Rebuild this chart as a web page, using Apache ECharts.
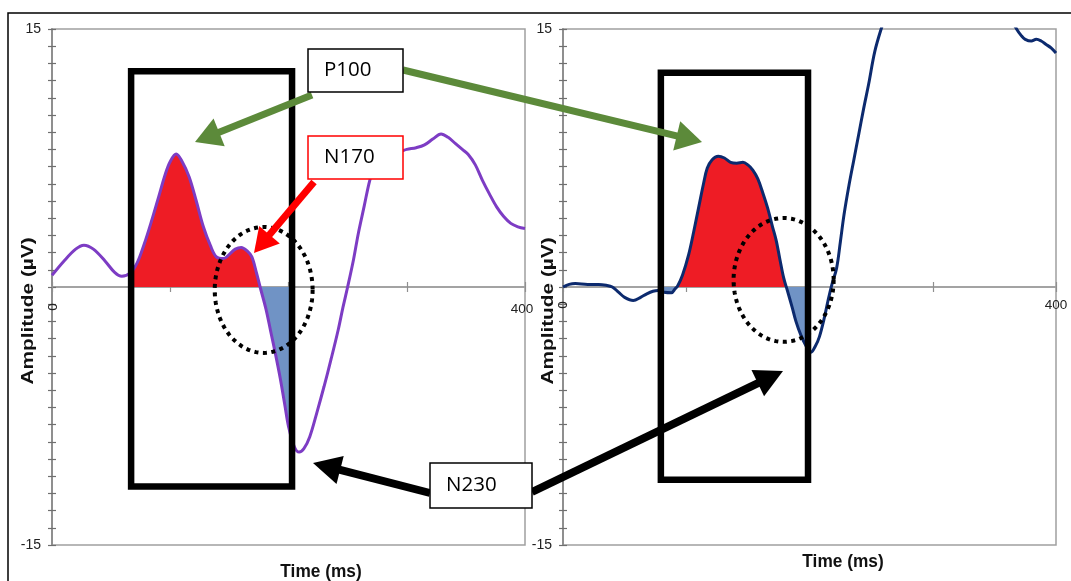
<!DOCTYPE html>
<html>
<head>
<meta charset="utf-8">
<script src="https://cdn.jsdelivr.net/npm/echarts@6/dist/echarts.min.js"></script>
<style>html,body{margin:0;padding:0;background:#fff;}#c{width:1071px;height:581px;}</style>
</head>
<body>
<div id="c"></div>
<script>
// ---- data ----
const timeL = [0,10,20,27,35,45,53,59,66,72,78,84,90,96,100,105,110,116,122,128,134,139,145,150,155,160,165,169,173,176,181,185,189,193,197,200,205,209,213,218,224,230,236,242,246,250,255,259,264,268,272,275,280,287,294,300,308,315,322,329,335,341,347,352,358,364,370,376,382,388,394,400];
const ampL  = [0.68,1.5,2.2,2.43,2.2,1.5,0.85,0.62,0.8,1.4,2.5,3.8,5.2,6.6,7.3,7.73,7.3,6.4,5.0,3.5,2.4,1.75,1.65,1.9,2.2,2.3,2.1,1.75,0.8,0,-1.3,-2.6,-3.9,-5.3,-6.9,-8.1,-9.3,-9.6,-9.4,-8.7,-7.3,-5.8,-4.2,-2.5,-1.2,0,1.6,3.1,4.7,6.0,7.0,7.55,7.8,7.85,7.87,8.0,8.1,8.26,8.6,8.9,8.7,8.35,8.0,7.7,7.1,6.2,5.4,4.66,4.1,3.7,3.5,3.4];
const timeR = [0,5,10,20,29,35,40,45,50,57,63,68,73,77,82,88,91,93,97,102,106,110,114,117,121,126,131,136,141,146,150,154,158,162,166,170,173,176,179,182,186,189,193,197,201,205,208,212,215,218,222,225,228,232,236,240,244,248,253,259,265,280,300,320,340,355,362,368,372,375,380,384,388,392,396,400];
const ampR  = [0,0.15,0.2,0.15,0.15,0.1,0,-0.3,-0.6,-0.78,-0.6,-0.4,-0.25,-0.2,-0.3,-0.33,-0.1,0.06,0.7,1.9,3.2,4.6,6.0,6.9,7.4,7.6,7.5,7.25,7.2,7.25,7.1,6.8,6.3,5.5,4.6,3.5,2.7,1.6,0.54,-0.2,-1.2,-2.0,-2.8,-3.4,-3.8,-3.4,-2.9,-1.8,-0.8,0.1,1.1,2.6,4.2,5.9,7.4,8.9,10.4,11.8,13.7,15.2,16.5,18.5,19.5,19.5,18.5,17,15.8,15,14.6,14.4,14.3,14.4,14.3,14.1,13.9,13.6];
const windowL = [66, 205];   // ms, analysis window (left)
const windowR = [77, 201];   // ms, analysis window (right)
const xTickValues = [0, 400];
const xTickLabels = ['0', '400'];
const yTickLabels = ['15', '-15'];
const componentNames = ['P100', 'N170', 'N230'];

// ---- build ----
const pairsL = timeL.map((t, i) => [t, ampL[i]]);
const pairsR = timeR.map((t, i) => [t, ampR[i]]);
const fillL = pairsL.filter(p => p[0] >= windowL[0] && p[0] <= windowL[1]);
const fillR = pairsR.filter(p => p[0] >= windowR[0] && p[0] <= windowR[1]);

const RED = '#ee1c25', BLUE = '#7093c5', PURPLE = '#7d3cc4', NAVY = '#0c2a6e', GREEN = '#5c8a3a';
const AX = '#8f8f8f';
const SMOOTH = 0.35;
const H = 581;

function mainX(gi) {
  return {
    gridIndex: gi, type: 'value', min: 0, max: 400, interval: 100, position: 'bottom',
    axisLine: { onZero: true, lineStyle: { color: '#a3a3a3', width: 2 } },
    axisTick: { show: true, inside: false, length: 5, lineStyle: { color: AX, width: 1.2 } },
    axisLabel: { show: false },
    splitLine: { show: false }
  };
}
function innerX(gi) {
  return {
    gridIndex: gi, type: 'value', min: 0, max: 400, interval: 100, position: 'bottom',
    axisLine: { show: false, onZero: true },
    axisTick: { show: true, inside: true, length: 5, lineStyle: { color: AX, width: 1.2 } },
    axisLabel: { show: false }, splitLine: { show: false }
  };
}
function mainY(gi) {
  return {
    gridIndex: gi, type: 'value', min: -15, max: 15, interval: 1, position: 'left',
    axisLine: { show: true, onZero: false, lineStyle: { color: AX, width: 2 } },
    axisTick: { show: true, inside: false, length: 4, lineStyle: { color: '#6f6f6f', width: 1.2 } },
    axisLabel: { margin: 11, fontSize: 14, color: '#222', fontFamily: 'Liberation Sans',
      formatter: v => yTickLabels.indexOf(String(v)) >= 0 ? String(v) : '' },
    splitLine: { show: false }
  };
}
function innerY(gi) {
  return {
    gridIndex: gi, type: 'value', min: -15, max: 15, interval: 1, position: 'left',
    axisLine: { show: false, onZero: false },
    axisTick: { show: true, inside: true, length: 4, lineStyle: { color: '#6f6f6f', width: 1.2 } },
    axisLabel: { show: false }, splitLine: { show: false }
  };
}

const chart = echarts.init(document.getElementById('c'), null, { renderer: 'canvas' });
chart.setOption({
  animation: false,
  backgroundColor: '#fff',
  grid: [
    { left: 52, right: 546, top: 29, bottom: 36, show: true, borderColor: '#a0a0a0', borderWidth: 1.5 },
    { left: 563, right: 15, top: 29, bottom: 36, show: true, borderColor: '#a0a0a0', borderWidth: 1.5 }
  ],
  xAxis: [mainX(0), mainX(1), innerX(0), innerX(1)],
  yAxis: [mainY(0), mainY(1), innerY(0), innerY(1)],
  series: [
    { id: 'fillL', type: 'line', xAxisIndex: 0, yAxisIndex: 0, data: fillL, smooth: SMOOTH, showSymbol: false,
      lineStyle: { width: 0 }, areaStyle: { opacity: 1, color: RED }, z: 2 },
    { id: 'fillR', type: 'line', xAxisIndex: 1, yAxisIndex: 1, data: fillR, smooth: SMOOTH, showSymbol: false,
      lineStyle: { width: 0 }, areaStyle: { opacity: 1, color: RED }, z: 2 },
    { type: 'line', xAxisIndex: 0, yAxisIndex: 0, data: pairsL, smooth: SMOOTH, showSymbol: false,
      lineStyle: { color: PURPLE, width: 3 }, itemStyle: { color: PURPLE }, z: 3, clip: true },
    { type: 'line', xAxisIndex: 1, yAxisIndex: 1, data: pairsR, smooth: SMOOTH, showSymbol: false,
      lineStyle: { color: NAVY, width: 3 }, itemStyle: { color: NAVY }, z: 3, clip: true }
  ]
});

// ---- annotations ----
const L = (x, y) => chart.convertToPixel({ xAxisIndex: 0, yAxisIndex: 0 }, [x, y]);
const R = (x, y) => chart.convertToPixel({ xAxisIndex: 1, yAxisIndex: 1 }, [x, y]);

function splitGradient(zeroY) {
  const o = zeroY / H;
  return { type: 'linear', x: 0, y: 0, x2: 0, y2: H, global: true,
    colorStops: [{ offset: 0, color: RED }, { offset: o, color: RED }, { offset: o, color: BLUE }, { offset: 1, color: BLUE }] };
}

function boxRect(conv, x0, x1, y0, y1) {
  const a = conv(x0, y0), b = conv(x1, y1);
  return { type: 'rect', z: 50, shape: { x: a[0], y: a[1], width: b[0] - a[0], height: b[1] - a[1] },
    style: { fill: 'none', stroke: '#000', lineWidth: 6.5 } };
}
function ellipse(conv, cxv, cyv, rxv, ryv) {
  const c = conv(cxv, cyv), e = conv(cxv + rxv, cyv + ryv);
  const rx = Math.abs(e[0] - c[0]), ry = Math.abs(e[1] - c[1]);
  const pts = [];
  for (let i = 0; i < 120; i++) {
    const a = i / 120 * Math.PI * 2;
    pts.push([c[0] + rx * Math.cos(a), c[1] + ry * Math.sin(a)]);
  }
  return { type: 'polygon', z: 50, shape: { points: pts },
    style: { fill: 'none', stroke: '#000', lineWidth: 4, lineDash: [4, 4.5] } };
}
function arrow(x1, y1, x2, y2, color, w, hl, hw) {
  const dx = x2 - x1, dy = y2 - y1, len = Math.hypot(dx, dy);
  const ux = dx / len, uy = dy / len, nx = -uy, ny = ux;
  const bx = x2 - ux * hl, by = y2 - uy * hl;
  return [
    { type: 'line', z: 60, shape: { x1: x1, y1: y1, x2: bx + ux * 2, y2: by + uy * 2 },
      style: { stroke: color, lineWidth: w } },
    { type: 'polygon', z: 60, shape: { points: [[x2, y2], [bx + nx * hw / 2, by + ny * hw / 2], [bx - nx * hw / 2, by - ny * hw / 2]] },
      style: { fill: color } }
  ];
}
function label(x, y, w, h, text, border) {
  return [
    { type: 'rect', z: 70, shape: { x: x, y: y, width: w, height: h },
      style: { fill: '#fff', stroke: border, lineWidth: 1.5 } },
    { type: 'text', z: 71, x: x + 16, y: y + h / 2,
      style: { text: text, fontSize: 20.5, fontFamily: 'Open Sans', fill: '#000', align: 'left', verticalAlign: 'middle' } }
  ];
}
function axisName(x, y, text, rot, sx, sy) {
  return { type: 'text', z: 20, x: x, y: y, rotation: rot, scaleX: sx, scaleY: sy,
    style: { text: text, fontSize: 16, fontWeight: 'bold', fontFamily: 'Liberation Sans', fill: '#111',
      align: 'center', verticalAlign: 'middle' } };
}
function tickText(p, text, dx, dy, rot) {
  return { type: 'text', z: 20, x: p[0] + dx, y: p[1] + dy, rotation: rot,
    style: { text: text, fontSize: 13.5, fontFamily: 'Liberation Sans', fill: '#222', align: 'center', verticalAlign: 'middle' } };
}

const g = [];
g.push({ type: 'rect', z: 1, shape: { x: 8, y: 13, width: 1100, height: 600 },
  style: { fill: 'none', stroke: '#000', lineWidth: 1.5 } });
g.push(axisName(29, 311, 'Amplitude (µV)', Math.PI / 2, 1.3, 1));
g.push(axisName(549, 311, 'Amplitude (µV)', Math.PI / 2, 1.3, 1));
g.push(axisName(321, 572, 'Time (ms)', 0, 1.08, 1.15));
g.push(axisName(843, 562, 'Time (ms)', 0, 1.08, 1.15));
// x tick labels on the zero line
g.push(tickText(L(xTickValues[0], 0), xTickLabels[0], 1, 20, Math.PI / 2));
g.push(tickText(L(xTickValues[1], 0), xTickLabels[1], -3, 22, 0));
g.push(tickText(R(xTickValues[0], 0), xTickLabels[0], 0, 18, Math.PI / 2));
g.push(tickText(R(xTickValues[1], 0), xTickLabels[1], 0, 18, 0));
g.push(boxRect(L, 66.9, 203, 12.55, -11.6));
g.push(boxRect(R, 79.4, 198.8, 12.45, -11.2));
g.push(ellipse(L, 179, -0.17, 41.4, 3.66));
g.push(ellipse(R, 179, 0.41, 40.6, 3.6));
g.push(...arrow(312, 95, 195, 142, GREEN, 7, 26, 30));
g.push(...arrow(403, 70, 702, 142, GREEN, 7, 26, 30));
g.push(...arrow(314, 182, 254, 253, '#ff0000', 7, 24, 27));
g.push(...arrow(430, 493, 313, 463, '#000', 8, 28, 29));
g.push(...arrow(532, 492, 783, 371, '#000', 8, 28, 29));
g.push(...label(308, 49, 95, 43, componentNames[0], '#000'));
g.push(...label(308, 136, 95, 43, componentNames[1], '#ff0000'));
g.push(...label(430, 463, 102, 45, componentNames[2], '#000'));
chart.setOption({
  series: [
    { id: 'fillL', areaStyle: { opacity: 1, color: splitGradient(L(0, 0)[1]) } },
    { id: 'fillR', areaStyle: { opacity: 1, color: splitGradient(R(0, 0)[1]) } }
  ],
  graphic: g
});
</script>
</body>
</html>
